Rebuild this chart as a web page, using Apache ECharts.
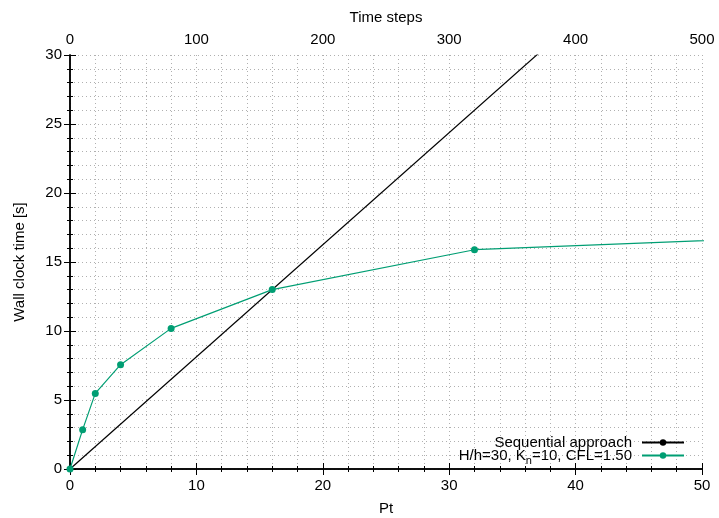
<!DOCTYPE html>
<html>
<head>
<meta charset="utf-8">
<script src="https://cdn.jsdelivr.net/npm/echarts@6/dist/echarts.min.js"></script>
<style>
  html, body { margin: 0; padding: 0; background: #fff; }
  #chart { width: 719px; height: 518px; }
</style>
</head>
<body>
<div id="chart"></div>
<script>
// values
const ptValues = [0, 1, 2, 4, 8, 16, 32, 64]
const parallelTimes = [0, 2.85, 5.48, 7.56, 10.19, 13.0, 15.89, 17.05]
const seqPt = [0, 40]
const seqTimes = [0, 32.5]

const xTicks = { min: 0, max: 50, interval: 10 }
const topTicks = { min: 0, max: 500, interval: 100 }
const yTicks = { min: 0, max: 30, interval: 5 }

const seqName = 'Sequential approach'
const parName = 'H/h=30, Kn=10, CFL=1.50'

const green = '#009e73'
const font = 'Liberation Sans, Arial, sans-serif'
const fs = 15
const grid = { lineStyle: { type: [1, 3], color: '#b0b0b0', width: 1 } }

const chart = echarts.init(document.getElementById('chart'))

const legendBase = {
  orient: 'vertical',
  align: 'right',
  right: 29,
  itemWidth: 42,
  itemHeight: 8,
  textStyle: { fontFamily: font, fontSize: fs, color: '#000', padding: [0, 5, 0, 0],
    rich: { sub: { fontFamily: font, fontSize: 11, padding: [10, 0, 0, 0] } } }
}

const option = {
  animation: false,
  backgroundColor: '#fff',
  grid: { left: 70, right: 17, top: 55, bottom: 49, outerBoundsMode: 'none', containLabel: false },
  legend: [
    Object.assign({}, legendBase, { data: [seqName], top: 430 }),
    Object.assign({}, legendBase, {
      data: [parName], top: 443,
      formatter: () => 'H/h=30, K{sub|n}=10, CFL=1.50'
    })
  ],
  xAxis: [
    {
      type: 'value', position: 'bottom', ...xTicks,
      name: 'Pt', nameLocation: 'middle', nameGap: 32,
      nameTextStyle: { fontFamily: font, fontSize: fs, color: '#000' },
      axisLine: { lineStyle: { color: '#000', width: 1.5 } },
      axisTick: { inside: true, length: 6, lineStyle: { color: '#000' } },
      minorTick: { show: true, splitNumber: 5, length: 3, lineStyle: { color: '#000' } },
      axisLabel: { fontFamily: font, fontSize: fs, color: '#000', margin: 9 },
      splitLine: { show: true, ...grid },
      minorSplitLine: { show: true, ...grid }
    },
    {
      type: 'value', position: 'top', ...topTicks,
      name: 'Time steps', nameLocation: 'middle', nameGap: 30,
      nameTextStyle: { fontFamily: font, fontSize: fs, color: '#000' },
      axisLine: { lineStyle: { color: '#000', width: 1.5 } },
      axisTick: { inside: true, length: 6, lineStyle: { color: '#000' } },
      minorTick: { show: true, splitNumber: 5, length: 3, lineStyle: { color: '#000' } },
      axisLabel: { fontFamily: font, fontSize: fs, color: '#000', margin: 8 },
      splitLine: { show: false }
    }
  ],
  yAxis: [
    {
      type: 'value', position: 'left', ...yTicks,
      name: 'Wall clock time [s]', nameLocation: 'middle', nameGap: 43,
      nameTextStyle: { fontFamily: font, fontSize: fs, color: '#000' },
      axisLine: { show: true, lineStyle: { color: '#000', width: 1.5 } },
      axisTick: { show: true, inside: true, length: 6, lineStyle: { color: '#000' } },
      minorTick: { show: true, splitNumber: 5, length: 3, lineStyle: { color: '#000' } },
      axisLabel: { fontFamily: font, fontSize: fs, color: '#000', margin: 8 },
      splitLine: { show: true, ...grid },
      minorSplitLine: { show: true, ...grid }
    },
    {
      type: 'value', position: 'right', ...yTicks,
      axisLine: { show: true, lineStyle: { color: '#000', width: 1.5 } },
      axisTick: { show: true, inside: true, length: 6, lineStyle: { color: '#000' } },
      minorTick: { show: true, splitNumber: 5, length: 3, lineStyle: { color: '#000' } },
      axisLabel: { show: false },
      splitLine: { show: false }
    }
  ],
  series: [
    {
      name: seqName, type: 'line',
      data: seqPt.map((p, i) => [p, seqTimes[i]]),
      symbol: 'circle', symbolSize: 6, showSymbol: false,
      clip: true,
      itemStyle: { color: '#000' },
      lineStyle: { color: '#000', width: 1.2 }
    },
    {
      name: parName, type: 'line',
      data: ptValues.map((p, i) => [p, parallelTimes[i]]),
      symbol: 'circle', symbolSize: 7, showAllSymbol: true,
      clip: true,
      itemStyle: { color: green },
      lineStyle: { color: green, width: 1.2 }
    }
  ]
}

chart.setOption(option)
</script>
</body>
</html>
